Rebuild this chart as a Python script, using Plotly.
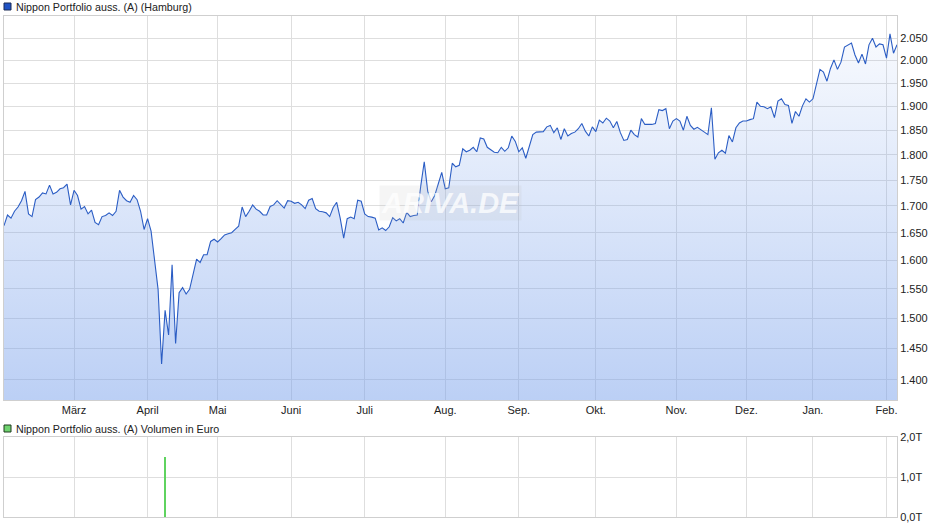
import math
import pandas as pd
import plotly.graph_objects as go

# ---------------- data ----------------
holidays = ["2025-04-18", "2025-04-21", "2025-05-01", "2025-12-24",
            "2025-12-25", "2025-12-26", "2025-12-31", "2026-01-01"]

feb25 = [1663, 1683, 1677, 1690, 1698, 1710, 1728, 1685, 1680, 1712,
         1717, 1725, 1723, 1740, 1723, 1726, 1733, 1735, 1742, 1702]
mar25 = [1730, 1720, 1694, 1699, 1685, 1692, 1669, 1665, 1680, 1682,
         1687, 1682, 1690, 1730, 1717, 1710, 1707, 1720, 1712, 1690, 1656]
apr25 = [1676, 1653, 1605, 1549, 1425, 1513, 1472, 1592, 1458, 1543,
         1552, 1541, 1549, 1574, 1602, 1596, 1610, 1610, 1634, 1638]
may25 = [1633, 1639, 1646, 1648, 1650, 1656, 1662, 1698, 1680, 1690,
         1702, 1694, 1690, 1683, 1683, 1699, 1702, 1710, 1703, 1696, 1710]
jun25 = [1709, 1705, 1707, 1702, 1695, 1711, 1714, 1695, 1690, 1689,
         1687, 1680, 1697, 1707, 1677, 1640, 1676, 1679, 1676, 1711, 1709]
jul25 = [1685, 1680, 1679, 1677, 1655, 1659, 1654, 1661, 1678, 1672,
         1676, 1668, 1688, 1680, 1682, 1683, 1738, 1786, 1728, 1708,
         1720, 1742, 1765]
aug25 = [1733, 1735, 1783, 1776, 1779, 1812, 1806, 1809, 1815, 1806,
         1834, 1832, 1815, 1810, 1805, 1804, 1815, 1807, 1814, 1838, 1827]
sep25 = [1806, 1814, 1793, 1817, 1841, 1846, 1847, 1847, 1857, 1860,
         1845, 1855, 1831, 1853, 1838, 1843, 1846, 1853, 1864, 1848,
         1838, 1857]
oct25 = [1847, 1871, 1865, 1875, 1869, 1855, 1868, 1845, 1829, 1831,
         1850, 1841, 1836, 1874, 1862, 1862, 1862, 1864, 1893, 1891,
         1895, 1853, 1869]
nov25 = [1874, 1869, 1850, 1879, 1860, 1852, 1856, 1850, 1846, 1841,
         1897, 1791, 1804, 1809, 1803, 1839, 1826, 1855, 1865, 1869]
dec25 = [1869, 1872, 1874, 1909, 1900, 1899, 1895, 1899, 1876, 1911,
         1916, 1904, 1902, 1864, 1889, 1879, 1901, 1916, 1909]
jan26 = [1916, 1947, 1980, 1974, 1954, 1982, 2001, 1980, 1996, 2030,
         2034, 2039, 2012, 1994, 2014, 1992, 2035, 2050, 2030, 2037, 2035]
feb26 = [2005, 2060, 2016, 2035]

prices = (feb25 + mar25 + apr25 + may25 + jun25 + jul25 + aug25 + sep25 +
          oct25 + nov25 + dec25 + jan26 + feb26)

vol_dates = ["2025-04-08"]
vol_values = [1500]

month_labels = ["März", "April", "Mai", "Juni", "Juli", "Aug.", "Sep.",
                "Okt.", "Nov.", "Dez.", "Jan.", "Feb."]
price_ticks = [1400, 1450, 1500, 1550, 1600, 1650, 1700, 1750, 1800,
               1850, 1900, 1950, 2000, 2050]
price_tick_labels = ["1.400", "1.450", "1.500", "1.550", "1.600", "1.650",
                     "1.700", "1.750", "1.800", "1.850", "1.900", "1.950",
                     "2.000", "2.050"]
vol_ticks = [0, 1000, 2000]
vol_tick_labels = ["0,0T", "1,0T", "2,0T"]

title_main = "Nippon Portfolio auss. (A) (Hamburg)"
title_vol = "Nippon Portfolio auss. (A) Volumen in Euro"

# ---------------- build ----------------
dates = pd.bdate_range("2025-02-03", "2026-02-05")
dates = dates[~dates.isin(pd.to_datetime(holidays))]
assert len(dates) == len(prices), (len(dates), len(prices))

# first trading day of each month (after the first month)
s = pd.Series(dates)
firsts = s.groupby([s.dt.year, s.dt.month]).first().tolist()[1:]
month_ticks = [d.strftime("%Y-%m-%d") for d in firsts]

W, H = 940, 526
L, R, T, B = 4, 43, 16, 9
plot_h = H - T - B
main_bottom_px = 400
vol_top_px = 437
main_dom = [(H - B - main_bottom_px) / plot_h, 1]
vol_dom = [0, (H - B - vol_top_px) / plot_h]

y_lo, y_hi = 1369, 2101.5

grid = "#dedede"
frame = "#cfcfcf"
font = "Liberation Sans, Arial, sans-serif"
breaks = [dict(bounds=["sat", "mon"]), dict(values=holidays)]

fig = go.Figure()
fig.add_trace(go.Scatter(
    x=dates, y=prices, mode="lines",
    line=dict(color="#2b5dc4", width=1.1),
    fill="tozeroy",
    fillgradient=dict(type="vertical", start=y_lo, stop=y_hi,
                      colorscale=[[0, "rgba(120,160,235,0.50)"],
                                  [1, "rgba(120,160,235,0.03)"]]),
    xaxis="x", yaxis="y", showlegend=False, hoverinfo="x+y"))

fig.add_trace(go.Bar(
    x=vol_dates, y=vol_values, width=[0.55 * 86400000],
    marker=dict(color="#5fd35f", line=dict(width=0)),
    xaxis="x2", yaxis="y2", showlegend=False))

x_common = dict(type="date", rangebreaks=breaks,
                range=[dates[0], dates[-1]],
                tickvals=month_ticks, ticktext=month_labels,
                showgrid=True, gridcolor=grid, gridwidth=1,
                showline=True, mirror=True, linecolor=frame, linewidth=1,
                ticks="", zeroline=False,
                tickfont=dict(family=font, size=11, color="#222"))

fig.update_layout(
    width=W, height=H,
    margin=dict(l=L, r=R, t=T, b=B),
    paper_bgcolor="white", plot_bgcolor="white",
    separators=",.",
    font=dict(family=font, size=11, color="#222"),
    bargap=0,
    xaxis=dict(x_common, anchor="y"),
    xaxis2=dict(x_common, anchor="y2", matches="x", showticklabels=False),
    yaxis=dict(type="log", domain=main_dom, side="right",
               range=[math.log10(y_lo), math.log10(y_hi)],
               tickvals=price_ticks, ticktext=price_tick_labels,
               showgrid=True, gridcolor=grid, showline=True, mirror=True,
               linecolor=frame, ticks="", zeroline=False,
               tickfont=dict(family=font, size=11, color="#222")),
    yaxis2=dict(domain=vol_dom, side="right", range=[0, 2000],
                tickvals=vol_ticks, ticktext=vol_tick_labels,
                showgrid=True, gridcolor=grid, showline=True, mirror=True,
                linecolor=frame, ticks="", zeroline=False,
                tickfont=dict(family=font, size=11, color="#222")),
)

plot_w = W - L - R


def px_x(px):
    return (px - L) / plot_w


def px_y(py):
    return (H - B - py) / plot_h


shapes = [
    dict(type="rect", xref="paper", yref="paper",
         x0=px_x(4), x1=px_x(11), y0=px_y(10), y1=px_y(3),
         fillcolor="#1f52c4", line=dict(color="#1a2a55", width=1)),
    dict(type="rect", xref="paper", yref="paper",
         x0=px_x(4), x1=px_x(11), y0=px_y(432), y1=px_y(425),
         fillcolor="#6fd36f", line=dict(color="#1f3a1f", width=1)),
]
annotations = [
    dict(text=title_main, xref="paper", yref="paper", x=px_x(14),
         y=px_y(6.5), xanchor="left", yanchor="middle", showarrow=False,
         font=dict(family=font, size=10.7, color="#222")),
    dict(text=title_vol, xref="paper", yref="paper", x=px_x(14),
         y=px_y(428.5), xanchor="left", yanchor="middle", showarrow=False,
         font=dict(family=font, size=10.7, color="#222")),
    dict(text="ARIVA.DE", xref="paper", yref="paper", x=px_x(450),
         y=px_y(203), xanchor="center", yanchor="middle", showarrow=False,
         bgcolor="rgba(185,185,185,0.15)", borderpad=1,
         font=dict(family=font, size=29, color="rgba(255,255,255,0.75)",
                   style="italic", weight="bold")),
]
fig.update_layout(shapes=shapes, annotations=annotations)

fig.write_html("out.html", config={"displayModeBar": False},
               post_script="document.body.style.margin='0';"
                           "document.body.style.padding='0';")
